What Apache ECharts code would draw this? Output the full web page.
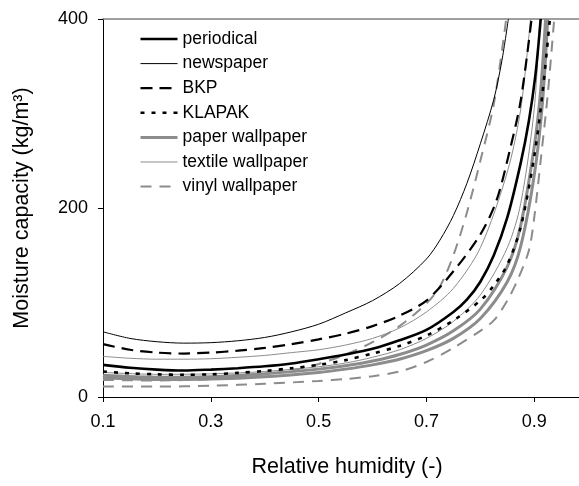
<!DOCTYPE html>
<html><head><meta charset="utf-8">
<script src="https://cdn.jsdelivr.net/npm/echarts@6/dist/echarts.min.js"></script>
<style>html,body{margin:0;padding:0;background:#fff}#c{width:579px;height:486px}</style>
</head><body><div id="c"></div>
<script>
// Relative humidity (x) and moisture capacity (y, kg/m3) per curve
const periodicalX = [0.1,0.15,0.2,0.25,0.3,0.35,0.4,0.45,0.5,0.55,0.6,0.65,0.7,0.75,0.775,0.8,0.825,0.85,0.875,0.89,0.902,0.912];
const periodicalY = [34,31,29,28,29,30.5,32.5,35.5,40,45,51,60,71,90,103,122,150,190,248,292,340,400];
const newspaperX = [0.1,0.15,0.2,0.25,0.3,0.35,0.4,0.45,0.5,0.55,0.6,0.65,0.7,0.725,0.75,0.775,0.8,0.825,0.84,0.852];
const newspaperY = [69,62,58.5,57,57.5,59.5,63,69,77,89,102,120,146,166,192,226,268,315,356,400];
const bkpX = [0.1,0.15,0.2,0.25,0.3,0.35,0.4,0.45,0.5,0.55,0.6,0.65,0.7,0.75,0.8,0.83,0.855,0.875,0.895];
const bkpY = [56,50,47,46,47,49,52,56,61,67,75,86,102,133,172,208,262,314,400];
const klapakX = [0.1,0.15,0.2,0.25,0.3,0.35,0.4,0.45,0.5,0.55,0.6,0.65,0.7,0.75,0.8,0.825,0.85,0.875,0.9,0.915,0.929];
const klapakY = [27,25,24,23.5,24,25.5,27.5,30.5,34,39,46,54,65,81,102,118,140,180,255,320,400];
const paperWall1X = [0.1,0.2,0.3,0.4,0.5,0.55,0.6,0.65,0.7,0.75,0.8,0.85,0.875,0.9,0.912,0.921];
const paperWall1Y = [23,21,21.5,24.5,29.5,33,38,45,55,70,93,138,182,265,325,400];
const paperWall2X = [0.1,0.2,0.3,0.4,0.5,0.55,0.6,0.65,0.7,0.75,0.8,0.85,0.875,0.9,0.915,0.925];
const paperWall2Y = [20,18.5,19,21.5,26,29.5,34,40,49,62,83,122,160,235,310,400];
const textile1X = [0.1,0.15,0.2,0.25,0.3,0.35,0.4,0.45,0.5,0.55,0.6,0.65,0.7,0.75,0.8,0.85,0.875,0.893];
const textile1Y = [43,41,40,40,40.5,42,44,47,50,55,62,73,90,115,158,238,305,400];
const textile2X = [0.1,0.2,0.3,0.4,0.5,0.55,0.6,0.65,0.7,0.75,0.8,0.85,0.875,0.9,0.91];
const textile2Y = [26,24,24.5,27,32,36,42,50,62,80,108,158,205,305,400];
const vinyl1X = [0.1,0.2,0.3,0.4,0.465,0.5,0.55,0.6,0.65,0.7,0.725,0.75,0.775,0.8,0.825,0.848];
const vinyl1Y = [18,17.5,19,24,30,35,45,58,75,99,117,150,195,250,310,400];
const vinyl2X = [0.1,0.2,0.3,0.4,0.5,0.55,0.6,0.65,0.7,0.75,0.8,0.825,0.85,0.87,0.89,0.9,0.913,0.925,0.937];
const vinyl2Y = [11,11,12,14,17,19,22,27,37,52,70,81,102,125,155,190,256,320,400];

const legendNames = ['periodical','newspaper','BKP','KLAPAK','paper wallpaper','textile wallpaper','vinyl wallpaper'];
const xTicks = [0.1,0.3,0.5,0.7,0.9];

const FONT = '"Liberation Sans", Arial, sans-serif';
const GRAY = '#8c8c8c';
const zip = (xs, ys) => xs.map((x, i) => [x, ys[i]]);
function ln(name, xs, ys, color, width, type, z) {
  return { name, type: 'line', data: zip(xs, ys), smooth: 0.3, symbol: 'none', z: z,
    lineStyle: { color, width, type }, itemStyle: { color }, emphasis: { disabled: true } };
}

const chart = echarts.init(document.getElementById('c'), null, { renderer: 'canvas' });
chart.setOption({
  animation: false,
  textStyle: { fontFamily: FONT },
  grid: { left: 103, right: 0, top: 19, bottom: 89, containLabel: false },
  legend: {
    data: legendNames, orient: 'vertical', left: 134, top: 25,
    itemWidth: 37, itemHeight: 14, itemGap: 6.6,
    itemStyle: { opacity: 0 },
    lineStyle: { width: 'inherit' },
    textStyle: { fontSize: 17.5, color: '#000', fontFamily: FONT }
  },
  xAxis: [{
    type: 'value', min: 0.1, max: 0.983,
    name: 'Relative humidity (-)', nameLocation: 'middle', nameGap: 59,
    nameTextStyle: { fontSize: 21.5, color: '#000', fontFamily: FONT, padding: [0, 0, 0, 12] },
    axisLine: { lineStyle: { color: '#000', width: 1 } },
    axisTick: { show: true, length: 5, lineStyle: { color: '#000' }, customValues: xTicks },
    axisLabel: { fontSize: 18, color: '#000', margin: 16, fontFamily: FONT, customValues: xTicks,
      formatter: v => v.toFixed(1) },
    splitLine: { show: false }
  }, {
    type: 'value', position: 'top', min: 0.1, max: 0.983,
    axisLine: { show: true, lineStyle: { color: '#808080', width: 1.5 } },
    axisTick: { show: false }, axisLabel: { show: false }, splitLine: { show: false }
  }],
  yAxis: {
    type: 'value', min: 0, max: 400, interval: 200,
    name: 'Moisture capacity (kg/m³)', nameLocation: 'middle', nameGap: 70,
    nameTextStyle: { fontSize: 21.5, color: '#000', fontFamily: FONT },
    axisLine: { show: true, lineStyle: { color: '#000', width: 1 } },
    axisTick: { show: true, length: 5, lineStyle: { color: '#000' } },
    axisLabel: { fontSize: 18, color: '#000', margin: 15, fontFamily: FONT },
    splitLine: { show: false }
  },
  series: [
    ln('periodical', periodicalX, periodicalY, '#000', 2.6, 'solid', 10),
    ln('newspaper', newspaperX, newspaperY, '#000', 1, 'solid', 9),
    ln('BKP', bkpX, bkpY, '#000', 2.2, [12, 7], 9),
    ln('KLAPAK', klapakX, klapakY, '#000', 2.6, [4, 7], 9),
    ln('paper wallpaper', paperWall1X, paperWall1Y, GRAY, 3, 'solid', 3),
    ln('paper wallpaper', paperWall2X, paperWall2Y, GRAY, 3, 'solid', 3),
    ln('textile wallpaper', textile1X, textile1Y, GRAY, 1, 'solid', 4),
    ln('textile wallpaper', textile2X, textile2Y, GRAY, 1, 'solid', 4),
    ln('vinyl wallpaper', vinyl1X, vinyl1Y, GRAY, 2, [11, 8], 5),
    ln('vinyl wallpaper', vinyl2X, vinyl2Y, GRAY, 2, [11, 8], 5)
  ]
});
</script></body></html>
